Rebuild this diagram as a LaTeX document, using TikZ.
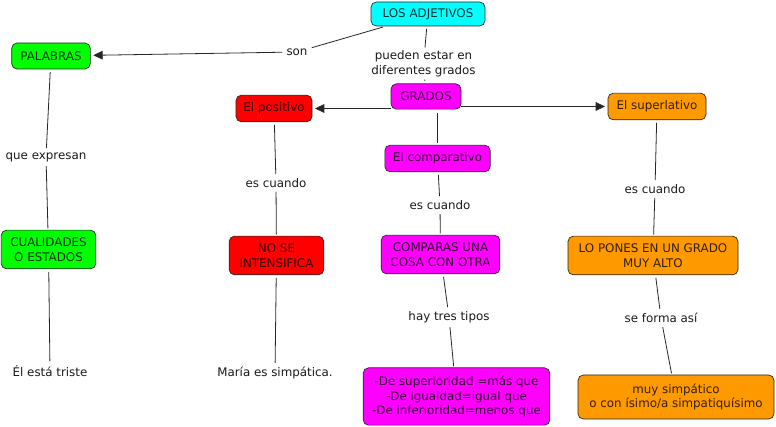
\documentclass[tikz,border=0pt]{standalone}
\usepackage{fontspec}
\setmainfont{DejaVu Sans}
\usetikzlibrary{arrows.meta}
\definecolor{ccyan}{RGB}{0,255,255}
\definecolor{cgreen}{RGB}{0,255,0}
\definecolor{cmag}{RGB}{255,0,255}
\definecolor{cred}{RGB}{255,0,0}
\definecolor{corange}{RGB}{255,153,0}
\tikzset{
  box/.style={draw=black!85, rounded corners=4pt, line width=0.5pt, inner sep=1pt,
    align=center, font=\fontsize{8.9}{11}\selectfont},
  cyanbox/.style={box, fill=ccyan, text=black!80!ccyan},
  greenbox/.style={box, fill=cgreen, text=black!80!cgreen},
  magbox/.style={box, fill=cmag, text=black!80!cmag},
  redbox/.style={box, fill=cred, text=black!80!cred},
  orabox/.style={box, fill=corange, text=black!80!corange},
  lbl/.style={inner sep=3pt, align=center, font=\fontsize{8.9}{11}\selectfont, text=black!90},
  conn/.style={draw=black!85, line width=0.6pt},
  arr/.style={conn, -{Triangle[length=7pt,width=6.5pt]}},
}
\begin{document}
\begin{tikzpicture}[x=0.75pt,y=-0.75pt]
\useasboundingbox (0,0) rectangle (776,427);
% concepts
\node[cyanbox, minimum width=85.5pt, minimum height=18pt] (adj) at (428,14) {LOS ADJETIVOS};
\node[greenbox, minimum width=59pt, minimum height=19.5pt] (pal) at (51,56) {PALABRAS};
\node[magbox, minimum width=52.5pt, minimum height=19pt] (gra) at (426,96.5) {GRADOS};
\node[redbox, minimum width=57pt, minimum height=20pt] (pos) at (274,108.5) {El positivo};
\node[orabox, minimum width=73.5pt, minimum height=20pt] (sup) at (657,106.5) {El superlativo};
\node[magbox, minimum width=79pt, minimum height=20pt] (com) at (437.5,158.5) {El comparativo};
\node[greenbox, minimum width=71pt, minimum height=29pt] (cua) at (48.5,249.5) {CUALIDADES\\O ESTADOS};
\node[redbox, minimum width=71pt, minimum height=29pt] (nose) at (276.5,255.5) {NO SE\\INTENSIFICA};
\node[magbox, minimum width=89pt, minimum height=29pt] (cmp) at (440.5,254.5) {COMPARAS UNA\\COSA CON OTRA};
\node[orabox, minimum width=127.5pt, minimum height=29pt] (alto) at (653,255.5) {LO PONES EN UN GRADO\\MUY ALTO};
\node[magbox, minimum width=140pt, minimum height=43pt] (tipos) at (456.5,396.5) {-De superioridad =más que\\-De igualdad=igual que\\-De inferioridad=menos que};
\node[orabox, minimum width=147pt, minimum height=33pt] (simp) at (676,397) {muy simpático\\ o con ísimo/a simpatiquísimo};
\node[lbl] (triste) at (50,371) {Él está triste};
\node[lbl] (maria) at (275,373) {María es simpática.};
% link labels
\node[lbl] (son) at (297,52) {son};
\node[lbl, inner sep=2pt] (pueden) at (423.5,63.5) {pueden estar en\\diferentes grados};
\node[lbl] (expr) at (46,157) {que expresan};
\node[lbl] (ec1) at (276,183) {es cuando};
\node[lbl] (ec2) at (440,205) {es cuando};
\node[lbl] (ec3) at (655,189) {es cuando};
\node[lbl] (tres) at (449,317) {hay tres tipos};
\node[lbl] (forma) at (661,318) {se forma así};
% connectors
\draw[conn, shorten <=2pt] (adj) -- (son);
\draw[arr, shorten >=2pt] (son) -- (pal);
\draw[conn, shorten <=2pt] (adj) -- (pueden);
\draw[conn, shorten >=2pt] (pueden) -- (gra);
\draw[arr, shorten >=2pt] (gra.west |- pos.east) -- (pos.east);
\draw[arr, shorten >=2pt] (gra.east |- sup.west) -- (sup.west);
\draw[conn, shorten <=3pt, shorten >=1pt] (com |- gra.south) -- (com.north);
\draw[conn, shorten <=2pt] (pal) -- (expr);
\draw[conn, shorten >=1pt] (expr) -- (cua);
\draw[conn, shorten <=2pt] (cua) -- (triste);
\draw[conn, shorten <=2pt] (pos) -- (ec1);
\draw[conn, shorten >=1pt] (ec1) -- (nose);
\draw[conn, shorten <=2pt] (nose) -- (maria);
\draw[conn, shorten <=2pt] (com) -- (ec2);
\draw[conn, shorten >=1pt] (ec2) -- (cmp);
\draw[conn, shorten <=2pt] (cmp) -- (tres);
\draw[conn, shorten >=1pt] (tres) -- (tipos);
\draw[conn, shorten <=2pt] (sup) -- (ec3);
\draw[conn, shorten >=1pt] (ec3) -- (alto);
\draw[conn, shorten <=2pt] (alto) -- (forma);
\draw[conn, shorten >=1pt] (forma) -- (simp);
\end{tikzpicture}
\end{document}
